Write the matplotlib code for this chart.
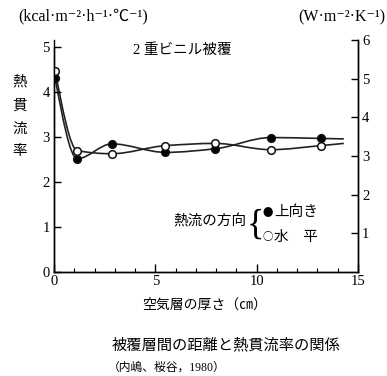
import numpy as np
import matplotlib.pyplot as plt
from matplotlib.path import Path
from matplotlib.patches import PathPatch

plt.rcParams['font.family'] = ['Liberation Serif', 'Noto Sans CJK JP', 'DejaVu Sans']

# air gap between the two films (cm); last point is where the curve ends (no marker)
gap_cm = [0.05, 1.15, 2.85, 5.5, 7.95, 10.7, 13.15, 14.3]
# heat transmission coefficient, kcal/(m2 h C)
upward = [4.32, 2.52, 2.85, 2.66, 2.74, 2.99, 2.97, 2.96]
horizontal = [4.47, 2.70, 2.63, 2.81, 2.86, 2.72, 2.81, 2.86]
n_measured = 7

KCAL_TO_W = 1.163


def pchip_path(x, y):
    # shape-preserving cubic through the points, written as bezier segments
    x = np.asarray(x, float)
    y = np.asarray(y, float)
    h = np.diff(x)
    delta = np.diff(y) / h
    d = np.zeros_like(y)
    for k in range(1, len(x) - 1):
        if delta[k - 1] * delta[k] > 0:
            w1 = 2 * h[k] + h[k - 1]
            w2 = h[k] + 2 * h[k - 1]
            d[k] = (w1 + w2) / (w1 / delta[k - 1] + w2 / delta[k])
    for i, s in ((0, 1), (-1, -1)):
        h0, h1 = (h[0], h[1]) if s == 1 else (h[-1], h[-2])
        d0, d1 = (delta[0], delta[1]) if s == 1 else (delta[-1], delta[-2])
        e = ((2 * h0 + h1) * d0 - h0 * d1) / (h0 + h1)
        if np.sign(e) != np.sign(d0):
            e = 0.0
        elif np.sign(d0) != np.sign(d1) and abs(e) > 3 * abs(d0):
            e = 3 * d0
        d[i] = e
    verts = [(x[0], y[0])]
    codes = [Path.MOVETO]
    for k in range(len(x) - 1):
        verts += [(x[k] + h[k] / 3, y[k] + d[k] * h[k] / 3),
                  (x[k + 1] - h[k] / 3, y[k + 1] - d[k + 1] * h[k] / 3),
                  (x[k + 1], y[k + 1])]
        codes += [Path.CURVE4] * 3
    return Path(verts, codes)


fig = plt.figure(figsize=(3.87, 3.76), dpi=100)
ax = fig.add_axes([54 / 387, 1 - 272 / 376, 304 / 387, 232 / 376])

for ys, face in ((upward, 'black'), (horizontal, 'white')):
    ax.add_patch(PathPatch(pchip_path(gap_cm, ys), fill=False, lw=1.2, color='#222222'))
    ax.plot(gap_cm[:n_measured], ys[:n_measured], 'o', ms=5.5, mfc=face,
            mec='#111111', mew=1.1, zorder=3)

ax.set_xlim(0, 15)
ax.set_ylim(0, 6 / KCAL_TO_W)
ax.spines['top'].set_visible(False)
ax.spines['left'].set_bounds(0, 5)
ax.set_xticks([0, 5, 10, 15])
ax.set_xticks(np.arange(0, 16, 1), minor=True)
ax.set_yticks([0, 1, 2, 3, 4, 5])
ax.tick_params(axis='x', which='major', direction='in', length=6, width=1, labelsize=10.5, pad=2)
ax.tick_params(axis='x', which='minor', direction='in', length=3, width=0.8)
ax.tick_params(axis='y', direction='in', length=5, width=1, labelsize=10.5, pad=3)

ax2 = ax.twinx()
ax2.set_ylim(0, 6)
ax2.spines['top'].set_visible(False)
ax2.set_yticks([1, 2, 3, 4, 5, 6])
ax2.tick_params(axis='y', direction='in', length=5, width=1, labelsize=10.5, pad=3)

for a in (ax, ax2):
    for s in a.spines.values():
        s.set_linewidth(1.0)


def ftext(px, py, s, **kw):
    fig.text(px / 387, 1 - py / 376, s, va='center', **kw)


cjk = ['Noto Sans CJK JP', 'DejaVu Sans']

ftext(18, 16, '(kcal·m⁻²·h⁻¹·℃⁻¹)', fontsize=11.5)
ftext(385, 17, '(W·m⁻²·K⁻¹)', fontsize=11.5, ha='right')
ftext(133, 50, '2 重ビニル被覆', fontsize=10.5)
for ch, py in zip('熱貫流率', [82, 106, 129, 152]):
    ftext(20, py, ch, fontsize=10.5, ha='center')

ftext(246, 221, '熱流の方向', fontsize=10.5, ha='right')
ftext(255, 225, '{', fontsize=26, ha='center')
ftext(268, 213, '●', fontsize=7.5, family=cjk, ha='center')
ftext(268, 237, '○', fontsize=7.5, family=cjk, ha='center')
ftext(274, 212, '上向き', fontsize=10.5)
ftext(274, 237, '水　平', fontsize=10.5)

ftext(205, 305, '空気層の厚さ（㎝）', fontsize=10, ha='center')
ftext(112, 345, '被覆層間の距離と熱貫流率の関係', fontsize=11)
ftext(108, 368, '（内嶋、桜谷，1980）', fontsize=8.5)

fig.savefig('out.png', dpi=100)
